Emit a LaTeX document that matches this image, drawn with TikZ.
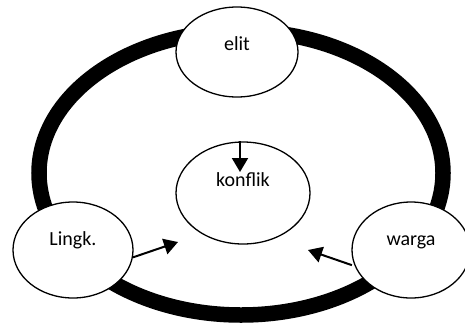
\documentclass[tikz,border=0pt]{standalone}
\usepackage{fontspec}
\setmainfont{Carlito}
\usetikzlibrary{shapes.geometric,arrows.meta}
\tikzset{
  ov/.style={ellipse, draw, fill=white, line width=1.3pt, inner sep=0pt},
  ring/.style={draw, line width=15.5pt},
  arr/.style={line width=2pt, -{Triangle[length=14pt,width=16pt]}},
  lbl/.style={font=\fontsize{20pt}{24pt}\selectfont}
}
\newcommand{\up}[2]{\raisebox{#1}[0pt][0pt]{#2}}
\begin{document}
\begin{tikzpicture}[x=1pt,y=-1pt]
\useasboundingbox (0,0) rectangle (465,325);
\draw[ring] (241,173) ellipse [x radius=202, y radius=142];
\node[ov, lbl, minimum width=122pt, minimum height=90pt] (E) at (237,52) {\up{2pt}{elit}};
\node[ov, lbl, minimum width=134pt, minimum height=102pt] (K) at (243,193) {\up{7pt}{konflik}};
\node[ov, lbl, minimum width=120pt, minimum height=96pt] (L) at (73,250) {\up{5pt}{Lingk.}};
\node[ov, lbl, minimum width=118pt, minimum height=96pt] (W) at (411,250) {\up{5pt}{warga}};
\coordinate (kt) at (240,172);
\coordinate (lt) at (178,242);
\coordinate (wt) at (308,250);
\draw[arr] (K.north -| kt) -- (kt);
\draw[arr] (L.-7) -- (lt);
\draw[arr, shorten <=3pt] (W.196) -- (wt);
\end{tikzpicture}
\end{document}
